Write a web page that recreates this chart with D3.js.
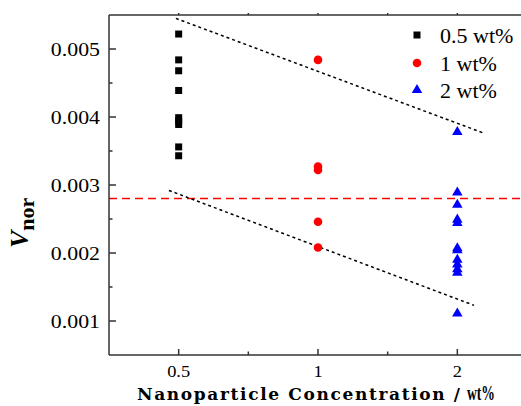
<!DOCTYPE html>
<html>
<head>
<meta charset="utf-8">
<script src="https://cdn.jsdelivr.net/npm/d3@7"></script>
<style>
  body { margin: 0; background: #fff; }
  svg { display: block; }
</style>
</head>
<body>
<div id="chart"></div>
<script>
// data
const categories = ["0.5", "1", "2"];
const seriesNames = ["0.5 wt%", "1 wt%", "2 wt%"];
const vals05 = [0.00522, 0.00484, 0.00468, 0.00439, 0.00399, 0.00394, 0.00389, 0.00356, 0.00343];
const vals1 = [0.00484, 0.00327, 0.00322, 0.00246, 0.00208];
const vals2 = [0.00378, 0.00289, 0.00271, 0.00249, 0.00244, 0.00207, 0.00204, 0.0019, 0.00183, 0.00176, 0.00171, 0.00111];
const refLine = 0.0028;
// dotted guide lines, [category index, value]
const upperGuide = [[-0.02, 0.00545], [2.18, 0.00377]];
const lowerGuide = [[-0.07, 0.00292], [2.12, 0.00123]];
const yTicks = [0.001, 0.002, 0.003, 0.004, 0.005];

const width = 521, height = 406;
const plot = { left: 109, top: 15, bottom: 355, right: 527 };

const svg = d3.select("#chart").append("svg")
    .attr("width", width)
    .attr("height", height);

const x = d3.scaleLinear().domain([-0.5, 2.5]).range([plot.left, plot.right]);
const y = d3.scaleLinear().domain([0.0005, 0.0055]).range([plot.bottom, plot.top]);

const serif = "'Liberation Serif', 'Times New Roman', serif";
const axisColor = "#333";

// red reference line
svg.append("line")
    .attr("x1", plot.left).attr("x2", plot.right)
    .attr("y1", y(refLine)).attr("y2", y(refLine))
    .attr("stroke", "#ff0000")
    .attr("stroke-width", 1.5)
    .attr("stroke-dasharray", "8,5");

// dotted guides
const line = d3.line().x(d => x(d[0])).y(d => y(d[1]));
[upperGuide, lowerGuide].forEach(g => {
    svg.append("path")
        .attr("d", line(g))
        .attr("fill", "none")
        .attr("stroke", "#000")
        .attr("stroke-width", 1.5)
        .attr("stroke-dasharray", "3,3");
});

// points
svg.append("g").selectAll("rect")
    .data(vals05).enter().append("rect")
    .attr("x", x(0) - 3.5).attr("y", d => y(d) - 3.5)
    .attr("width", 7).attr("height", 7)
    .attr("fill", "#000");

svg.append("g").selectAll("circle")
    .data(vals1).enter().append("circle")
    .attr("cx", x(1)).attr("cy", d => y(d))
    .attr("r", 4.3)
    .attr("fill", "#ff0000");

const tri = d3.symbol().type(d3.symbolTriangle).size(48);
svg.append("g").selectAll("path")
    .data(vals2).enter().append("path")
    .attr("d", tri)
    .attr("transform", d => "translate(" + x(2) + "," + y(d) + ")")
    .attr("fill", "#0000ff");

// axes box
const axes = svg.append("g").attr("stroke", axisColor).attr("stroke-width", 1.5);
axes.append("line").attr("x1", plot.left).attr("x2", plot.left).attr("y1", plot.top).attr("y2", plot.bottom);
axes.append("line").attr("x1", plot.left).attr("x2", plot.right).attr("y1", plot.bottom).attr("y2", plot.bottom);
axes.append("line").attr("x1", plot.left).attr("x2", plot.right).attr("y1", plot.top).attr("y2", plot.top);

// y ticks (inward)
yTicks.forEach(t => {
    axes.append("line").attr("x1", plot.left).attr("x2", plot.left + 7).attr("y1", y(t)).attr("y2", y(t));
});
d3.range(0.0015, 0.0055, 0.001).forEach(t => {
    axes.append("line").attr("x1", plot.left).attr("x2", plot.left + 3.5).attr("y1", y(t)).attr("y2", y(t));
});
// x ticks (inward) and small top ticks
categories.forEach((c, i) => {
    axes.append("line").attr("x1", x(i)).attr("x2", x(i)).attr("y1", plot.bottom).attr("y2", plot.bottom - 6);
    axes.append("line").attr("x1", x(i)).attr("x2", x(i)).attr("y1", plot.top).attr("y2", plot.top - 2);
});
[0.5, 1.5].forEach(t => {
    axes.append("line").attr("x1", x(t)).attr("x2", x(t)).attr("y1", plot.bottom).attr("y2", plot.bottom - 3.5);
    axes.append("line").attr("x1", x(t)).attr("x2", x(t)).attr("y1", plot.top).attr("y2", plot.top - 2);
});

// tick labels (slightly widened like the original)
yTicks.forEach(t => {
    svg.append("g")
        .attr("transform", "translate(100," + (y(t) + 6.5) + ") scale(1.15,1)")
        .append("text")
        .attr("text-anchor", "end")
        .attr("font-family", serif)
        .attr("font-size", 19)
        .text(d3.format(".3f")(t));
});
categories.forEach((c, i) => {
    svg.append("g")
        .attr("transform", "translate(" + x(i) + ",377) scale(1.15,1)")
        .append("text")
        .attr("text-anchor", "middle")
        .attr("font-family", serif)
        .attr("font-size", 16)
        .text(c);
});

// axis titles
svg.append("text")
    .attr("x", 137).attr("y", 400)
    .attr("font-family", "'DejaVu Serif', serif")
    .attr("font-size", 17)
    .attr("font-weight", "bold")
    .attr("textLength", 323)
    .attr("lengthAdjust", "spacing")
    .text("Nanoparticle Concentration /");
svg.append("text")
    .attr("x", 467).attr("y", 400)
    .attr("font-family", serif)
    .attr("font-weight", "bold")
    .attr("font-size", 20)
    .attr("textLength", 28)
    .attr("lengthAdjust", "spacingAndGlyphs")
    .text("wt%");

const yTitle = svg.append("text")
    .attr("transform", "translate(28,248) rotate(-90)")
    .attr("font-family", serif)
    .attr("font-weight", "bold");
yTitle.append("tspan").attr("font-style", "italic").attr("font-size", 26).text("V");
yTitle.append("tspan").attr("font-size", 22).attr("dy", 6).text("nor");

// legend
const legend = svg.append("g").attr("font-family", serif).attr("font-size", 22);
const legendY = [35, 63, 90];
legend.append("rect").attr("x", 413.5).attr("y", legendY[0] - 3.5).attr("width", 7).attr("height", 7).attr("fill", "#000");
legend.append("circle").attr("cx", 417).attr("cy", legendY[1]).attr("r", 4.3).attr("fill", "#ff0000");
legend.append("path").attr("d", tri).attr("transform", "translate(417," + legendY[2] + ")").attr("fill", "#0000ff");
seriesNames.forEach((s, i) => {
    legend.append("text").attr("x", 440).attr("y", legendY[i] + 7.5).text(s);
});
</script>
</body>
</html>
